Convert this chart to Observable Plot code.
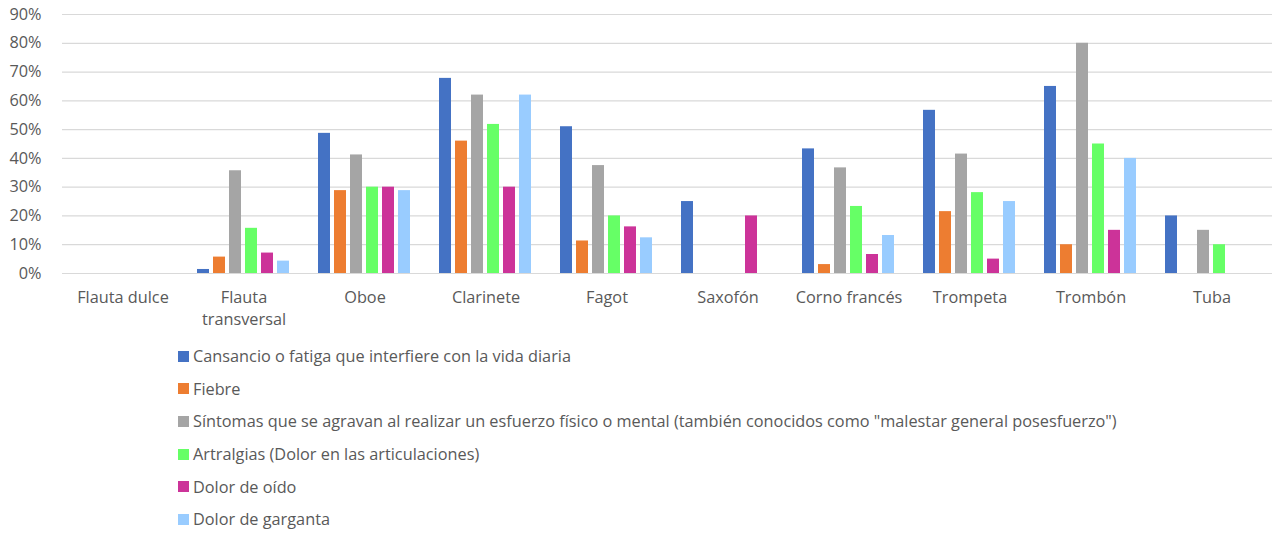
<!DOCTYPE html>
<html>
<head>
<meta charset="utf-8">
<script src="https://cdn.jsdelivr.net/npm/d3@7"></script>
<script src="https://cdn.jsdelivr.net/npm/@observablehq/plot@0.6"></script>
<style>
  body { margin: 0; background: #fff; font-family: "Open Sans", Lato, sans-serif; }
  #legend { margin-left: 178px; color: #595959; font-size: 16.3px; }
  .item { height: 32.6px; display: flex; align-items: center; }
  .sw { width: 11px; height: 11px; margin-right: 4px; flex: none; }
</style>
</head>
<body>
<div id="chart"></div>
<div id="legend"></div>
<script>
const instruments = ["Flauta dulce", "Flauta transversal", "Oboe", "Clarinete", "Fagot", "Saxofón", "Corno francés", "Trompeta", "Trombón", "Tuba"];
const seriesNames = [
  "Cansancio o fatiga que interfiere con la vida diaria",
  "Fiebre",
  "Síntomas que se agravan al realizar un esfuerzo físico o mental (también conocidos como \"malestar general posesfuerzo\")",
  "Artralgias (Dolor en las articulaciones)",
  "Dolor de oído",
  "Dolor de garganta"
];
const colors = ["#4472C4", "#ED7D31", "#A5A5A5", "#66FF66", "#CC3399", "#99CCFF"];

// values per series, in instrument order (fractions)
const cansancio = [0, 0.014, 0.487, 0.678, 0.51, 0.25, 0.433, 0.567, 0.65, 0.20];
const fiebre    = [0, 0.057, 0.288, 0.46, 0.113, 0, 0.031, 0.215, 0.10, 0];
const sintomas  = [0, 0.357, 0.412, 0.62, 0.375, 0, 0.367, 0.415, 0.80, 0.15];
const artralgias= [0, 0.157, 0.30, 0.518, 0.20, 0, 0.233, 0.281, 0.45, 0.10];
const oido      = [0, 0.071, 0.30, 0.30, 0.162, 0.20, 0.066, 0.05, 0.15, 0];
const garganta  = [0, 0.043, 0.288, 0.62, 0.124, 0, 0.132, 0.25, 0.40, 0];
const yTicks = [0, 0.1, 0.2, 0.3, 0.4, 0.5, 0.6, 0.7, 0.8, 0.9];

const allSeries = [cansancio, fiebre, sintomas, artralgias, oido, garganta];
const data = [];
instruments.forEach((inst, i) => {
  allSeries.forEach((vals, s) => {
    data.push({instrument: inst, series: seriesNames[s], value: vals[i]});
  });
});

const chart = Plot.plot({
  width: 1280,
  height: 340,
  marginLeft: 58,
  marginRight: 5,
  marginTop: 14,
  marginBottom: 67,
  style: {fontFamily: "'Open Sans', Lato, sans-serif", fontSize: "16.3px", color: "#595959", background: "white"},
  fx: {domain: instruments, padding: 0},
  x: {domain: seriesNames, paddingInner: 0.22, paddingOuter: 0.865, axis: null},
  y: {domain: [0, 0.9]},
  color: {domain: seriesNames, range: colors},
  marks: [
    Plot.gridY(yTicks, {stroke: "#d9d9d9", strokeOpacity: 1, strokeWidth: 1.2}),
    Plot.barY(data, {fx: "instrument", x: "series", y: "value", fill: "series", inset: 0}),
    Plot.axisY({ticks: yTicks, tickFormat: d3.format(".0%"), tickSize: 0, tickPadding: 21, label: null, fill: "#595959", fontSize: 16.3}),
    Plot.axisFx({anchor: "bottom", tickSize: 0, tickPadding: 14, label: null, fill: "#595959", fontSize: 16.3, lineHeight: 1.35,
      tickFormat: d => d === "Flauta transversal" ? "Flauta\ntransversal" : d})
  ]
});
document.getElementById("chart").appendChild(chart);

const legend = document.getElementById("legend");
seriesNames.forEach((name, i) => {
  const item = document.createElement("div");
  item.className = "item";
  const sw = document.createElement("span");
  sw.className = "sw";
  sw.style.background = colors[i];
  const t = document.createElement("span");
  t.textContent = name;
  item.appendChild(sw);
  item.appendChild(t);
  legend.appendChild(item);
});
</script>
</body>
</html>
